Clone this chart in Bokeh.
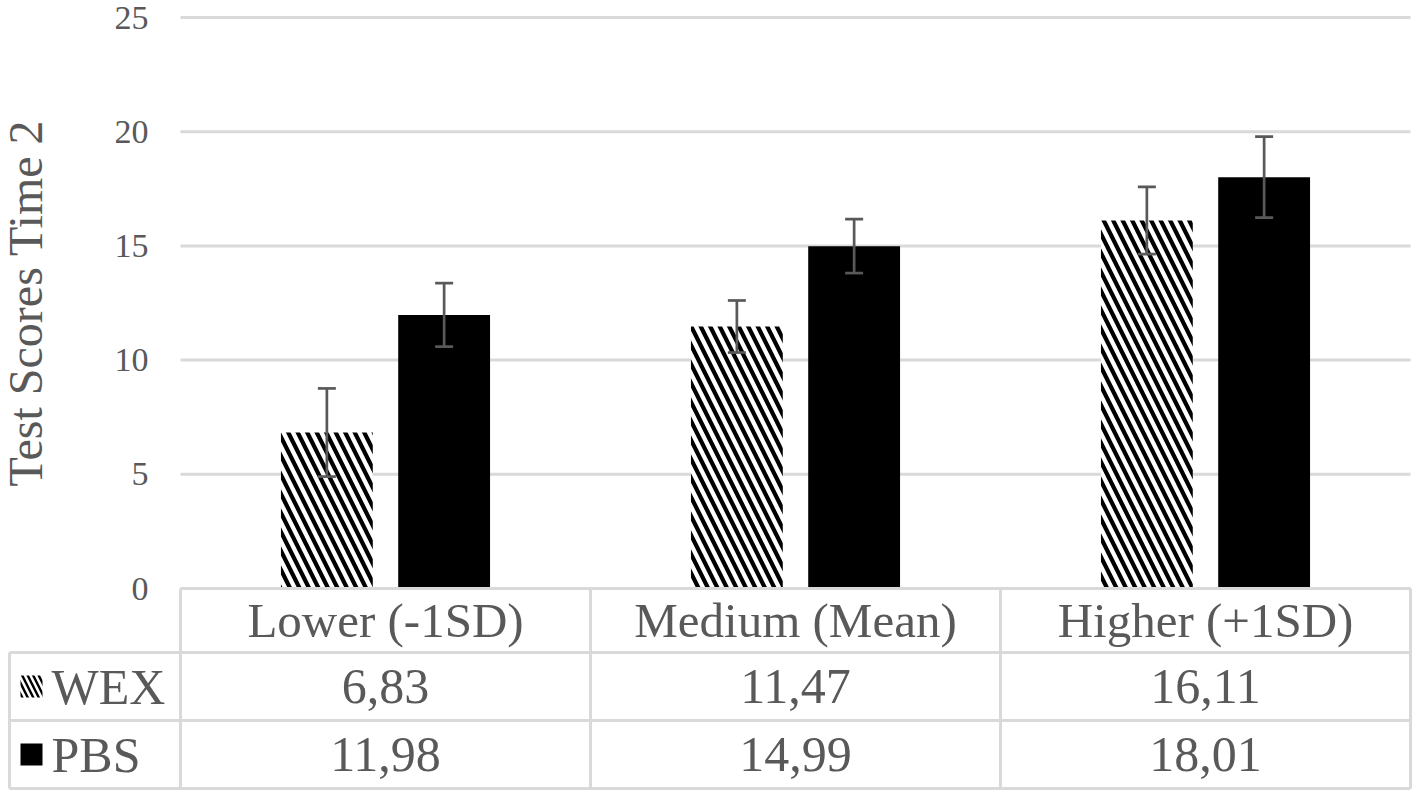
from bokeh.plotting import figure
from bokeh.models import ColumnDataSource, Range1d, FixedTicker, Whisker, TeeHead
from bokeh.core.properties import value
from bokeh.embed import file_html
from bokeh.resources import INLINE

# ---------------- data ----------------
categories = ["Lower (-1SD)", "Medium (Mean)", "Higher (+1SD)"]
series = ["WEX", "PBS"]
wex = [6.83, 11.47, 16.11]
pbs = [11.98, 14.99, 18.01]
wex_err = [1.93, 1.14, 1.47]
pbs_err = [1.39, 1.18, 1.77]
y_ticks = [0, 5, 10, 15, 20, 25]
y_label = "Test Scores Time 2"

# ---------------- style / layout ----------------
FONT = "Liberation Serif"
TXT = "#595959"
GRID = "#d9d9d9"
ERR = "#595959"

W, H = 1412, 793
LEFT = 180          # px left of the plot area (label column)
RIGHT = 2
TOP = 17            # px above the 25 line
PLOT_H = 571        # px from 25 down to 0
HEAD_H = 64         # header row of the data table
ROW_H = 68          # data rows
TABLE_X = 8         # px where the label column starts
n = len(categories)
PX = (W - LEFT - RIGHT) / n          # px per category
YPX = PLOT_H / 25.0                  # px per score unit

x0 = -LEFT / PX
x1 = n + RIGHT / PX
y1 = 25 + TOP / YPX
y0 = -(H - TOP - PLOT_H) / YPX

centers = [i + 0.5 for i in range(n)]
OFF = 0.143
BAR_W = 0.224

p = figure(width=W, height=H, x_range=Range1d(x0, x1), y_range=Range1d(y0, y1),
           toolbar_location=None, output_backend="svg", min_border=0)
p.outline_line_color = None
p.background_fill_color = "white"
p.border_fill_color = "white"
p.xaxis.visible = False
p.xgrid.grid_line_color = None
p.ygrid.grid_line_color = None

# gridlines over the plot area
p.segment(x0=[0] * len(y_ticks), x1=[n] * len(y_ticks), y0=y_ticks, y1=y_ticks,
          line_color=GRID, line_width=3)

# bars
src_w = ColumnDataSource(dict(x=[c - OFF for c in centers], top=wex,
                              upper=[v + e for v, e in zip(wex, wex_err)],
                              lower=[v - e for v, e in zip(wex, wex_err)]))
src_p = ColumnDataSource(dict(x=[c + OFF for c in centers], top=pbs,
                              upper=[v + e for v, e in zip(pbs, pbs_err)],
                              lower=[v - e for v, e in zip(pbs, pbs_err)]))
p.vbar(x="x", top="top", bottom=0, width=BAR_W, source=src_w,
       fill_color="white", line_color=None,
       hatch_pattern="\\", hatch_color="black", hatch_scale=19, hatch_weight=4.2)
p.vbar(x="x", top="top", bottom=0, width=BAR_W, source=src_p,
       fill_color="black", line_color=None)

for src in (src_w, src_p):
    p.add_layout(Whisker(base="x", upper="upper", lower="lower", source=src,
                         line_color=ERR, line_width=2.7, level="annotation",
                         upper_head=TeeHead(size=18, line_color=ERR, line_width=2.7),
                         lower_head=TeeHead(size=18, line_color=ERR, line_width=2.7)))

# y axis (placed at the left edge of the plot area)
ax = p.yaxis[0]
ax.fixed_location = 0
ax.bounds = (0, 25)
ax.ticker = FixedTicker(ticks=y_ticks)
ax.axis_line_color = None
ax.major_tick_line_color = None
ax.minor_tick_line_color = None
ax.major_tick_out = 0
ax.major_tick_in = 0
ax.minor_tick_out = 0
ax.minor_tick_in = 0
ax.major_label_text_font = FONT
ax.major_label_text_font_size = "34px"
ax.major_label_text_color = TXT
ax.major_label_standoff = 32
ax.axis_label = y_label
ax.axis_label_text_font = FONT
ax.axis_label_text_font_style = "normal"
ax.axis_label_text_font_size = "48px"
ax.axis_label_text_color = TXT
ax.axis_label_standoff = 60

# ---------------- data table ----------------
yb = [0, -HEAD_H / YPX, -(HEAD_H + ROW_H) / YPX, -(HEAD_H + 2 * ROW_H) / YPX]
xl = x0 + (TABLE_X + 1) / PX
# horizontal borders
p.segment(x0=[0, xl, xl, xl], x1=[n] * 4, y0=yb, y1=yb, line_color=GRID, line_width=3)
# vertical borders
vx = list(range(n + 1)) + [xl]
p.segment(x0=vx, x1=vx, y0=[0] * (n + 1) + [yb[1]], y1=[yb[3]] * (n + 2),
          line_color=GRID, line_width=3)

def fmt(v):
    return f"{v:.2f}".replace(".", ",")

head_y = (yb[0] + yb[1]) / 2
row_y = [(yb[1] + yb[2]) / 2, (yb[2] + yb[3]) / 2]

p.text(x=centers, y=[head_y] * n, text=categories, text_font=value(FONT),
       text_font_size="49px", text_color=TXT, text_align="center",
       text_baseline="middle")

vals_src = ColumnDataSource(dict(
    x=centers + centers,
    y=[row_y[0]] * n + [row_y[1]] * n,
    text=[fmt(v) for v in wex] + [fmt(v) for v in pbs]))
p.text(x="x", y="y", text="text", source=vals_src, text_font=value(FONT),
       text_font_size="50px", text_color=TXT, text_align="center",
       text_baseline="middle")

def xpage(px):
    return (px - LEFT) / PX

# legend keys
p.rect(x=[xpage(31)], y=[row_y[0]], width=22, height=22, width_units="screen",
       height_units="screen", fill_color="white", line_color=None,
       hatch_pattern="\\", hatch_color="black", hatch_scale=11, hatch_weight=2.4)
p.rect(x=[xpage(31)], y=[row_y[1]], width=22, height=22, width_units="screen",
       height_units="screen", fill_color="black", line_color=None)
p.text(x=[xpage(51)] * 2, y=row_y, text=series, text_font=value(FONT),
       text_font_size="50px", text_color=TXT, text_align="left",
       text_baseline="middle")

open("out.html", "w").write(file_html(p, INLINE))
